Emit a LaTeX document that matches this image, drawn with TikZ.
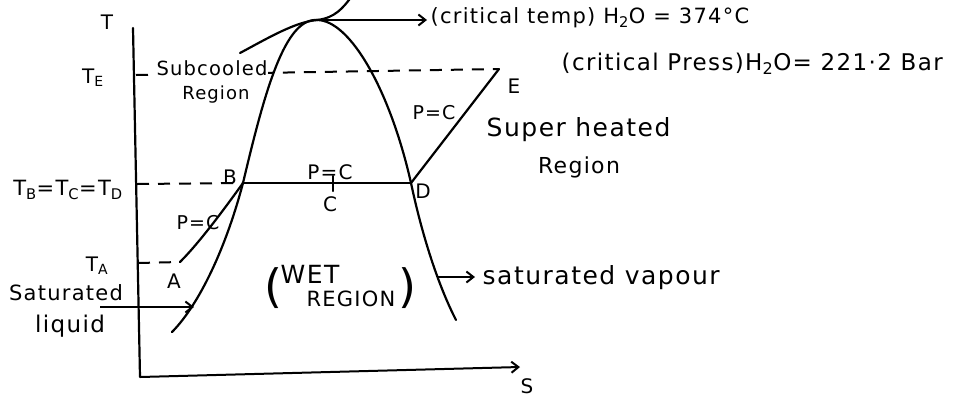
\documentclass[tikz,border=0pt]{standalone}
\usepackage{fontspec}
\setmainfont{DejaVu Sans}[LetterSpace=6]
\usetikzlibrary{arrows.meta,positioning,calc}

\begin{document}
\begin{tikzpicture}[
  x=1pt,y=-1pt,
  crv/.style={line width=2.2pt,line cap=round},
  dsh/.style={line width=2pt,dash pattern=on 12pt off 9pt},
  ar/.style={-{Straight Barb[length=7pt,width=11pt,line width=2pt]},line width=2pt},
  lbl/.style={inner sep=0.5pt,font=\fontsize{#1}{#1}\selectfont},
  lbl/.default=20,
  cover/.style={inner sep=1pt,fill=white,font=\fontsize{19.5}{20}\selectfont},
  paren/.style={inner sep=0pt,font=\fontsize{46}{46}\selectfont}
]
\useasboundingbox (0,0) rectangle (976,405);

%======================= POINTS =======================
\coordinate (Ttop) at (133,28);
\coordinate (O)    at (140,377);
\coordinate (Send) at (520,367);
\coordinate (K)    at (317,20);
\coordinate (B)    at (243,183);
\coordinate (C)    at (333,183);
\coordinate (D)    at (411,183);
\coordinate (E)    at (499,69);
\coordinate (A)    at (180,262);
\coordinate (Lbot) at (172,332);
\coordinate (Rbot) at (456,320);
\coordinate (sub)  at (240,53);
\coordinate (sup)  at (352,-4);
\coordinate (axE)  at (136,75);
\coordinate (axB)  at (137,184);
\coordinate (axA)  at (138,263);
\coordinate (kEnd) at (427,20);
\coordinate (sl)   at (100,307);
\coordinate (slT)  at (194,307);
\coordinate (sv)   at (437,277);
\coordinate (svT)  at (475,277);

%======================= DASHED LEVELS =======================
\draw[dsh] (axE) -- (E);
\draw[dsh] (axB) -- (B);
\draw[dsh] (axA) -- (A);

%======================= LABELS =======================
\node[lbl] (lT)  at (107,22)  {T};
\node[lbl] (lS)  at (527,386) {S};
\node[lbl] (lTE) at (93,78)   {T\textsubscript{E}};
\node[lbl=21] (lTB) at (68,190)  {T\textsubscript{B}=T\textsubscript{C}=T\textsubscript{D}};
\node[lbl] (lTA) at (97,266)  {T\textsubscript{A}};
\node[lbl=21] (lsat) at (66,293) {Saturated};
\node[lbl=23] (lliq) at (70,326) {liquid};
\node[cover] (lsub) at (212,68) {Subcooled};
\node[lbl=18] (lreg) at (216,95) {Region};
\node[lbl] (lB)  at (230,177) {B};
\node[lbl] (lpc) at (330,172) {P=C};
\node[lbl] (lC)  at (330,204) {C};
\node[lbl] (lD)  at (423,191) {D};
\node[lbl] (lE)  at (514,86)  {E};
\node[lbl=19] (lpcE) at (434,113) {P=C};
\node[lbl=19] (lpcA) at (198,223) {P=C};
\node[lbl] (lA)  at (174,281) {A};
\node[paren] (wetL) at (273,288) {(};
\node[lbl=25] (wetT) at (310,274) {WET};
\node[lbl=21] (regT) at (351,299) {REGION};
\node[paren] (wetR) at (407,288) {)};
\node[lbl=25,anchor=west] (lsv) at (482,278) {saturated vapour};
\node[lbl=25,anchor=west] (lsh) at (486,130) {Super heated};
\node[lbl=22] (lshr) at (579,167) {Region};
\node[lbl=21,anchor=west] (lct) at (430,18) {(critical temp) H\textsubscript{2}O = 374°C};
\node[lbl=23,anchor=west] (lcp) at (561,64) {(critical Press)H\textsubscript{2}O= 221·2 Bar};

%======================= AXES =======================
\draw[crv] (Ttop) -- (O);
\draw[ar] (O) -- (Send);

%======================= DOME =======================
\draw[crv] (Lbot) .. controls (196,308) and (224,255) .. (B)
  .. controls (265,90) and (285,18) .. (K)
  .. controls (350,20) and (390,90) .. (D)
  .. controls (422,235) and (438,285) .. (Rbot);

%======================= ISOBARS =======================
\draw[crv] (B) -- (D);
\draw[crv] ($(C)+(0,-7)$) -- ($(C)+(0,8)$);
\draw[crv] (D) -- (E);
\draw[crv] (A) .. controls (200,242) and (225,208) .. (B);
\draw[crv] (sub) .. controls (268,38) and (295,22) .. (K)
  .. controls (335,18) and (343,8) .. (sup);

%======================= ARROWS =======================
\draw[ar] (K) -- (kEnd);
\draw[ar] (sl) -- (slT);
\draw[ar] (sv) -- (svT);

\end{tikzpicture}
\end{document}
